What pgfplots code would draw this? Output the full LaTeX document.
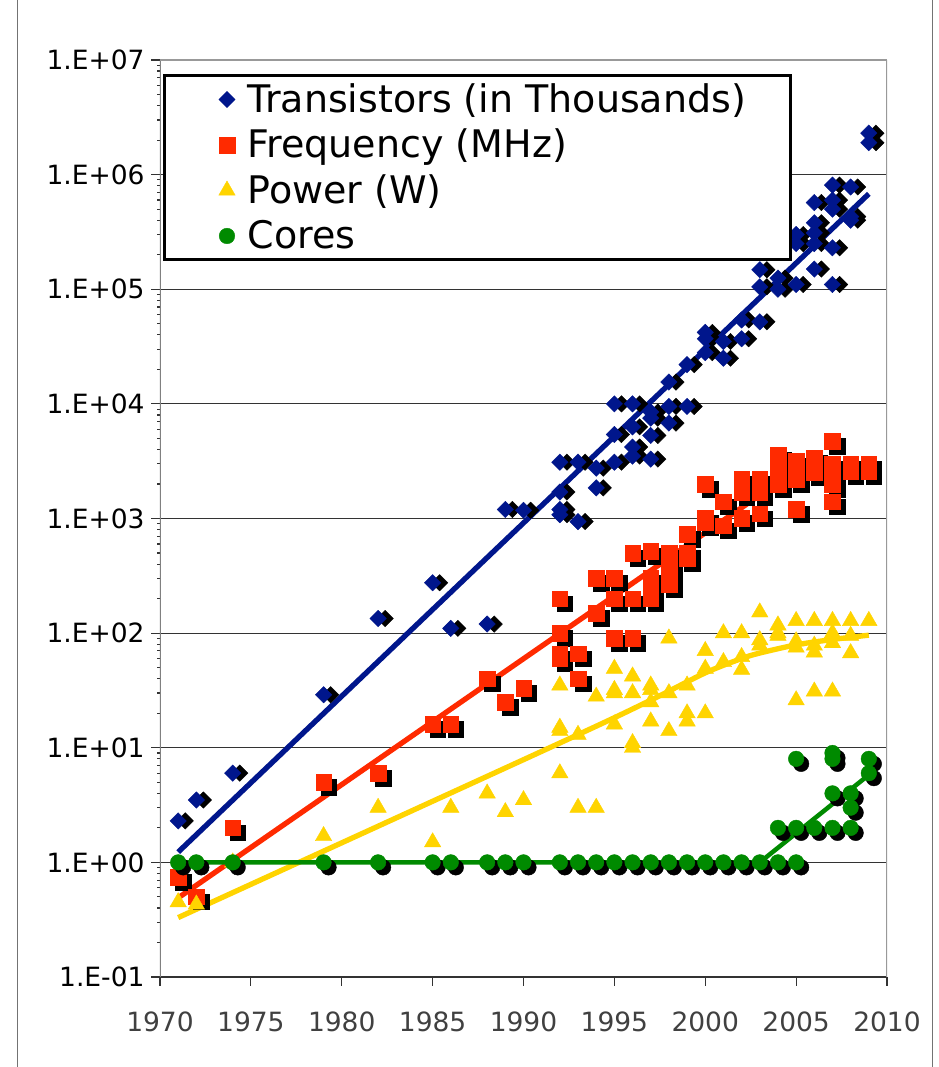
\documentclass[border=0pt]{standalone}
\usepackage{pgfplots}
\usepackage{pgfplotstable}
\pgfplotsset{compat=1.18}
\usepackage{fontspec}
\setmainfont{DejaVu Sans}
\definecolor{tblue}{RGB}{0,22,140}
\definecolor{fred}{RGB}{255,42,0}
\definecolor{pyel}{RGB}{255,212,0}
\definecolor{cgreen}{RGB}{0,138,0}

\pgfplotstableread{
year val
1971 2.3
1972 3.5
1974 6
1979 29
1982 134
1985 275
1986 110
1988 120
1989 1200
1990 1180
1992 3100
1992 1700
1992 1200
1992 1080
1993 3100
1993 940
1994 2750
1994 1850
1995 10000
1995 5400
1995 3100
1996 10000
1996 6300
1996 4200
1996 3500
1997 8500
1997 7500
1997 5300
1997 3300
1998 15500
1998 9500
1998 6800
1999 22000
1999 9500
2000 42000
2000 37000
2000 28000
2001 35000
2001 25000
2002 220000
2002 54000
2002 37000
2003 148000
2003 105000
2003 52000
2004 125000
2004 100000
2005 300000
2005 250000
2005 110000
2006 570000
2006 380000
2006 310000
2006 250000
2006 150000
2007 810000
2007 600000
2007 500000
2007 230000
2007 110000
2008 780000
2008 430000
2008 400000
2009 2300000
2009 1900000
}\transistors

\pgfplotstableread{
year val
1971 0.74
1972 0.5
1974 2
1979 5
1982 6
1985 16
1986 16
1988 40
1989 25
1990 33
1992 200
1992 100
1992 66
1992 60
1993 66
1993 40
1994 300
1994 150
1995 300
1995 200
1995 90
1996 500
1996 200
1996 90
1997 520
1997 300
1997 233
1997 200
1998 500
1998 400
1998 300
1998 266
1999 733
1999 500
1999 450
2000 2000
2000 1000
2000 933
2001 1400
2001 866
2002 2200
2002 2000
2002 1700
2002 1000
2003 2200
2003 2000
2003 1700
2003 1100
2004 3600
2004 2800
2004 2200
2004 2000
2005 3200
2005 2500
2005 2200
2005 1200
2006 3400
2006 3000
2006 2500
2007 4700
2007 3000
2007 2400
2007 2000
2007 1400
2008 3000
2008 2600
2009 3000
2009 2600
}\frequency

\pgfplotstableread{
year val
1971 0.45
1972 0.43
1974 1.0
1979 1.7
1982 3.0
1985 1.5
1986 3.0
1988 4.0
1989 2.75
1990 3.5
1992 35
1992 15
1992 14
1992 6
1993 13
1993 3
1994 28
1994 3
1995 49
1995 32
1995 30
1995 16
1996 42
1996 30
1996 11
1996 10
1997 35
1997 32
1997 25
1997 17
1998 90
1998 30
1998 14
1999 35
1999 20
1999 17
2000 70
2000 49
2000 20
2001 100
2001 56
2002 100
2002 62
2002 48
2003 152
2003 87
2003 78
2004 117
2004 100
2004 95
2005 128
2005 85
2005 75
2005 26
2006 128
2006 78
2006 68
2006 31
2007 128
2007 100
2007 82
2007 31
2008 128
2008 95
2008 67
2009 128
}\power

\pgfplotstableread{
year val
1971 1
1972 1
1974 1
1979 1
1982 1
1985 1
1986 1
1988 1
1989 1
1990 1
1992 1
1993 1
1994 1
1995 1
1996 1
1997 1
1998 1
1999 1
2000 1
2001 1
2002 1
2003 1
2004 1
2005 1
2004 2
2005 2
2005 8
2006 2
2007 2
2007 4
2007 8
2007 9
2008 2
2008 3
2008 4
2009 6
2009 8
}\cores

\begin{document}
\begin{tikzpicture}[x=1pt,y=1pt]
\useasboundingbox (-160,-90) rectangle (778,977);
\fill[white] (-160,-90) rectangle (778,977);
\draw[black!55, line width=1pt] (-142,-95) -- (-142,982);
\draw[black!55, line width=1pt] (772,-95) -- (772,982);
\begin{axis}[
  at={(0pt,0pt)}, anchor=south west,
  scale only axis, width=727pt, height=917pt,
  xmin=1970, xmax=2010, ymode=log, ymin=0.1, ymax=1e7,
  xtick={1970,1975,1980,1985,1990,1995,2000,2005,2010},
  xticklabels={1970,1975,1980,1985,1990,1995,2000,2005,2010},
  ytick={0.1,1,10,100,1000,10000,100000,1000000,10000000},
  yticklabels={1.E-01,1.E+00,1.E+01,1.E+02,1.E+03,1.E+04,1.E+05,1.E+06,1.E+07},
  minor ytick={},
  xtick pos=left, ytick pos=left,
  tick align=outside, major tick length=9pt,
  tick style={black!80, line width=1.2pt},
  ymajorgrids, grid style={black!80, line width=1.2pt},
  axis line style={draw=none},
  yticklabel style={font=\fontsize{26.5}{30}\selectfont, text=black, xshift=-3pt},
  xticklabel style={font=\fontsize{26.5}{30}\selectfont, text=black!75, yshift=-22pt},
  legend style={at={(axis description cs:0,1)}, anchor=north west, xshift=3pt, yshift=-14pt,
    draw=black, line width=3pt, fill=white,
    font=\fontsize{38}{44}\selectfont,
    inner xsep=44pt, inner ysep=9pt, row sep=15.5pt, column sep=10pt,
    cells={anchor=west},
    nodes={inner sep=0pt, text height=28pt, text depth=2pt}},
  legend image code/.code={\path (-17pt,0pt) (9pt,0pt); \draw[#1] plot coordinates {(0pt,0pt)};},
]
\draw[black!50, line width=2pt] (rel axis cs:0,0) -- (rel axis cs:0,1);
\draw[black!40, line width=2pt] (rel axis cs:0,1) -- (rel axis cs:1,1);
\draw[black!40, line width=3pt] (rel axis cs:1,0) -- (rel axis cs:1,1);

% transistors
\addplot[only marks, forget plot, mark=square*, mark size=5.8pt,
  mark options={rotate=45, draw=black, fill=black, line width=0.4pt, xshift=5pt, yshift=-5pt}]
  table[x=year, y=val] {\transistors};
\addplot[only marks, mark=square*, mark size=5.8pt,
  mark options={rotate=45, draw=tblue, fill=tblue, line width=0.4pt}]
  table[x=year, y=val] {\transistors};
\addlegendentry{Transistors (in Thousands)}
% frequency
\addplot[only marks, forget plot, mark=square*, mark size=7.8pt,
  mark options={draw=black, fill=black, line width=0.4pt, xshift=5pt, yshift=-5pt}]
  table[x=year, y=val] {\frequency};
\addplot[only marks, mark=square*, mark size=7.8pt,
  mark options={draw=fred, fill=fred, line width=0.4pt}]
  table[x=year, y=val] {\frequency};
\addlegendentry{Frequency (MHz)}
% power
\addplot[only marks, mark=triangle*, mark size=9.5pt,
  mark options={draw=pyel, fill=pyel, line width=0.4pt}]
  table[x=year, y=val] {\power};
\addlegendentry{Power (W)}
% cores
\addplot[only marks, forget plot, mark=*, mark size=7.8pt,
  mark options={draw=black, fill=black, line width=0.4pt, xshift=5pt, yshift=-5pt}]
  table[x=year, y=val] {\cores};
\addplot[only marks, mark=*, mark size=7.8pt,
  mark options={draw=cgreen, fill=cgreen, line width=0.4pt}]
  table[x=year, y=val] {\cores};
\addlegendentry{Cores}

% trend lines
\addplot[forget plot, no marks, tblue, line width=5.3pt] coordinates {(1971,1.23) (2009,680000)};
\addplot[forget plot, no marks, fred, line width=5.3pt] coordinates {(1971,0.49) (2003,1600)};
\addplot[forget plot, no marks, pyel, line width=5.3pt, smooth] coordinates {(1971,0.33) (1992,11) (1997,26) (2000,45) (2002,60) (2003,67) (2005,79) (2007,88) (2009,96)};
\addplot[forget plot, no marks, cgreen, line width=4.5pt] coordinates {(1971,1) (2003,1) (2009,5.8)};
\end{axis}
\end{tikzpicture}
\end{document}
